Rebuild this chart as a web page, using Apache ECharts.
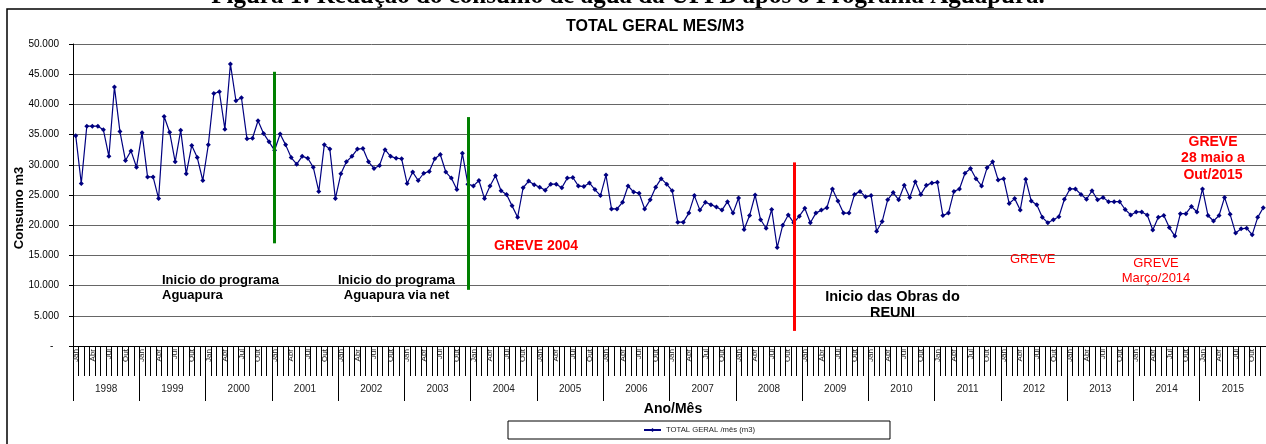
<!DOCTYPE html>
<html>
<head>
<meta charset="utf-8">
<script src="https://cdn.jsdelivr.net/npm/echarts@6/dist/echarts.min.js"></script>
<style>
  html, body { margin: 0; padding: 0; background: #fff; }
  #chart { width: 1266px; height: 444px; }
</style>
</head>
<body>
<div id="chart"></div>
<script>
const years = ['1998', '1999', '2000', '2001', '2002', '2003', '2004', '2005', '2006',
  '2007', '2008', '2009', '2010', '2011', '2012', '2013', '2014', '2015'];
const monthNames = ['Jan', 'Fev', 'Mar', 'Abr', 'Mai', 'Jun', 'Jul', 'Ago', 'Set', 'Out', 'Nov', 'Dez'];

// consumo mensal (m3), jan..dez
const c1998 = [34800, 26900, 36400, 36400, 36400, 35800, 31400, 42900, 35500, 30700, 32300, 29600];
const c1999 = [35300, 28000, 28000, 24400, 38000, 35400, 30500, 35700, 28500, 33200, 31200, 27400];
const c2000 = [33300, 41800, 42100, 35900, 46700, 40600, 41100, 34300, 34400, 37300, 35200, 33800];
const c2001 = [32400, 35100, 33300, 31200, 30100, 31400, 31100, 29600, 25600, 33300, 32600, 24400];
const c2002 = [28500, 30500, 31400, 32600, 32700, 30500, 29400, 29900, 32500, 31400, 31100, 31000];
const c2003 = [26900, 28800, 27400, 28600, 28900, 31000, 31700, 28800, 27800, 25900, 31900, 26800];
const c2004 = [26500, 27400, 24400, 26500, 28200, 25700, 25100, 23200, 21300, 26200, 27300, 26700];
const c2005 = [26300, 25800, 26800, 26800, 26200, 27800, 27900, 26500, 26400, 27000, 25900, 24900];
const c2006 = [28300, 22700, 22700, 23800, 26500, 25500, 25300, 22700, 24200, 26300, 27700, 26800];
const c2007 = [25700, 20500, 20500, 22000, 24900, 22500, 23800, 23400, 23000, 22500, 23900, 22000];
const c2008 = [24500, 19300, 21600, 25000, 20900, 19500, 22600, 16300, 20000, 21700, 20400, 21500];
const c2009 = [22800, 20400, 22000, 22500, 22900, 26000, 24000, 22000, 22000, 25100, 25600, 24700];
const c2010 = [24900, 19000, 20600, 24200, 25400, 24200, 26600, 24600, 27200, 25100, 26600, 27000];
const c2011 = [27100, 21600, 22000, 25600, 26000, 28600, 29400, 27700, 26500, 29500, 30500, 27500];
const c2012 = [27700, 23600, 24400, 22500, 27600, 24000, 23400, 21300, 20400, 20900, 21400, 24300];
const c2013 = [26000, 26000, 25100, 24300, 25700, 24200, 24600, 23900, 23900, 23900, 22600, 21700];
const c2014 = [22200, 22200, 21700, 19200, 21300, 21600, 19600, 18200, 21900, 21900, 23100, 22200];
const c2015 = [26000, 21600, 20700, 21600, 24600, 21800, 18700, 19400, 19500, 18400, 21300, 22900];

// marcos verticais: categoria, valor inicial/final
const marcos = [
  {cat: 'Jan/2001', from: 45400, to: 17000, color: '#008000'},
  {cat: 'Dez/2003', from: 37900, to: 9300, color: '#008000'},
  {cat: 'Nov/2008', from: 30400, to: 2500, color: '#ff0000'}
];

const consumo = [].concat(c1998, c1999, c2000, c2001, c2002, c2003, c2004, c2005, c2006,
  c2007, c2008, c2009, c2010, c2011, c2012, c2013, c2014, c2015);
const meses = [];
for (const y of years) {
  for (const m of monthNames) meses.push(m + '/' + y);
}

function fmt(v) {
  if (v === 0) return '-  ';
  return String(v).replace(/\B(?=(\d{3})+(?!\d))/g, '.');
}

function note(text, x, y, opts) {
  return {
    type: 'text', x: x, y: y, silent: true, z: 50,
    style: Object.assign({
      text: text,
      fontFamily: 'Liberation Sans',
      fontSize: 13,
      fontWeight: 'bold',
      fill: '#000',
      align: 'left',
      verticalAlign: 'middle',
      lineHeight: 15
    }, opts || {})
  };
}

const chart = echarts.init(document.getElementById('chart'));
chart.setOption({
  animation: false,
  backgroundColor: '#fff',
  textStyle: {fontFamily: 'Liberation Sans'},
  grid: {left: 73, top: 44, width: 1195, height: 302},
  legend: {
    left: 508, top: 421,
    padding: [5, 135],
    borderColor: '#000', borderWidth: 1,
    itemWidth: 17, itemHeight: 5,
    textStyle: {fontSize: 7.7, color: '#222'}
  },
  xAxis: [
    {
      type: 'category',
      data: meses,
      boundaryGap: true,
      axisLine: {lineStyle: {color: '#000', width: 1}},
      axisTick: {show: true, interval: 0, length: 30, lineStyle: {color: '#000', width: 1}},
      axisLabel: {
        interval: (i) => i % 3 === 0,
        rotate: 90, margin: 3, fontSize: 8, color: '#222',
        formatter: (v) => v.split('/')[0]
      },
      splitLine: {show: false}
    },
    {
      type: 'category',
      data: years,
      position: 'bottom',
      boundaryGap: true,
      axisLine: {show: false},
      axisTick: {show: true, interval: 0, length: 55, lineStyle: {color: '#000', width: 1}},
      axisLabel: {interval: 0, margin: 38, fontSize: 10, color: '#222'},
      splitLine: {show: false}
    }
  ],
  yAxis: {
    type: 'value',
    min: 0, max: 50000, interval: 5000,
    axisLine: {show: true, lineStyle: {color: '#000'}},
    axisTick: {show: true, length: 4, lineStyle: {color: '#000'}},
    axisLabel: {fontSize: 10, color: '#000', margin: 14, formatter: fmt},
    splitLine: {lineStyle: {color: '#666', width: 1}}
  },
  series: [{
    name: 'TOTAL GERAL /mês (m3)',
    type: 'line',
    data: consumo,
    symbol: 'diamond',
    symbolSize: 5,
    showAllSymbol: true,
    lineStyle: {color: '#000080', width: 1.2},
    itemStyle: {color: '#000080'},
    markLine: {
      silent: true,
      symbol: 'none',
      label: {show: false},
      data: marcos.map(m => [
        {coord: [m.cat, m.from], lineStyle: {color: m.color, width: 3, type: 'solid'}},
        {coord: [m.cat, m.to]}
      ])
    }
  }],
  graphic: [
    {
      type: 'rect', silent: true,
      shape: {x: 7, y: 9, width: 1300, height: 500},
      style: {fill: 'none', stroke: '#000', lineWidth: 1.5}
    },
    note('Figura 1: Redução do consumo de água da UFPB após o Programa Aguapura.', 628, -3,
      {fontFamily: 'Liberation Serif', fontSize: 25, align: 'center'}),
    note('TOTAL GERAL MES/M3', 655, 27, {fontSize: 16, align: 'center'}),
    {
      type: 'text', x: 19, y: 208, rotation: Math.PI / 2, silent: true,
      style: {
        text: 'Consumo m3', fontFamily: 'Liberation Sans', fontSize: 13, fontWeight: 'bold',
        fill: '#000', align: 'center', verticalAlign: 'middle'
      }
    },
    note('Ano/Mês', 673, 409, {fontSize: 14, align: 'center'}),
    note('Inicio do programa\nAguapura', 162, 287.5),
    note('Inicio do programa\nAguapura via net', 396.5, 287.5, {align: 'center'}),
    note('GREVE 2004', 494, 246.5, {fontSize: 14, fill: '#ff0000'}),
    note('Inicio das Obras do\nREUNI', 892.5, 305, {fontSize: 14.5, align: 'center', lineHeight: 16}),
    note('GREVE', 1010, 259, {fontWeight: 'normal', fill: '#ff0000'}),
    note('GREVE\nMarço/2014', 1156, 270.5, {fontWeight: 'normal', fill: '#ff0000', align: 'center'}),
    note('GREVE\n28 maio a\nOut/2015', 1213, 158.5, {fontSize: 14, fill: '#ff0000', align: 'center', lineHeight: 16.5})
  ]
});
</script>
</body>
</html>
